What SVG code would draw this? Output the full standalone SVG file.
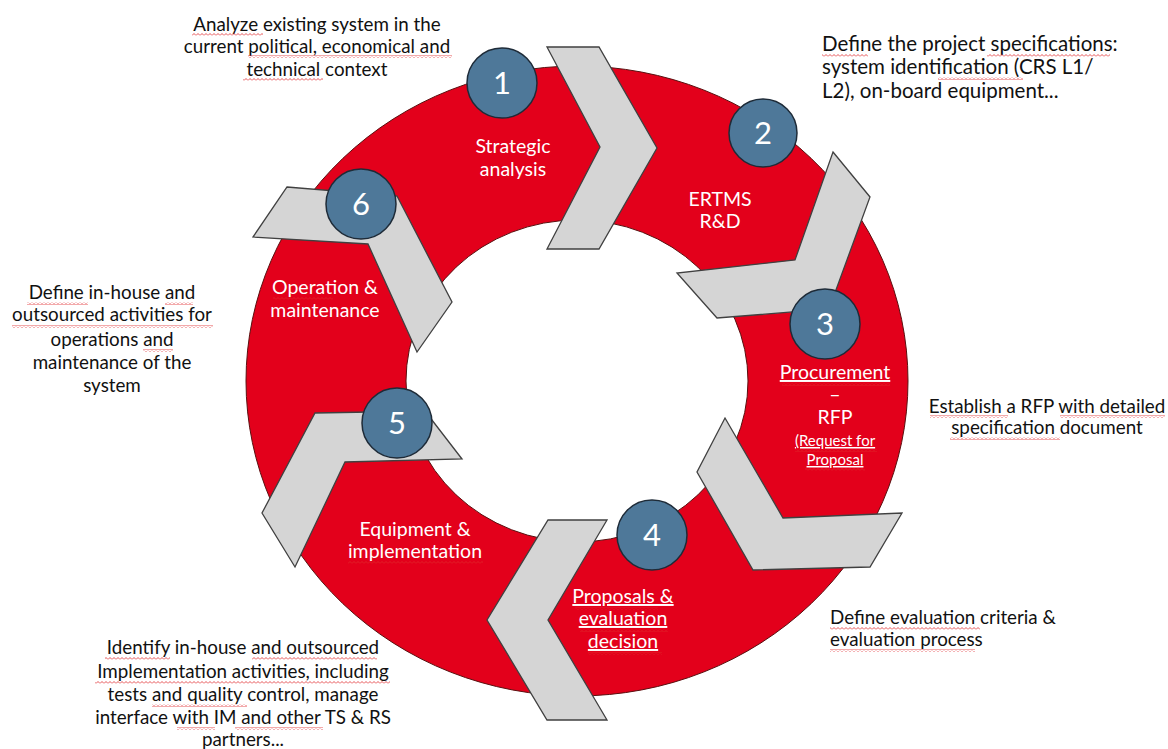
<svg xmlns="http://www.w3.org/2000/svg" width="1168" height="749" viewBox="0 0 1168 749">
<defs>
<pattern id="sq" patternUnits="userSpaceOnUse" width="4" height="3">
<path d="M0,2.5 L2,0.5 L4,2.5" fill="none" stroke="#E0282B" stroke-width="0.8"/>
</pattern>
</defs>
<style>
.ring{fill:#E3001B;stroke:#5A1010;stroke-width:1}
.chev{fill:#D5D5D5;stroke:#404040;stroke-width:1.3;stroke-linejoin:miter}
.num{fill:#4E7899;stroke:#1E2B38;stroke-width:1.5}
.nt{font-family:Lato,"Liberation Sans",sans-serif;font-size:31px;fill:#FFFFFF;text-anchor:middle}
.wt{font-family:Lato,"Liberation Sans",sans-serif;font-size:19.5px;fill:#FFFFFF;text-anchor:middle}
.bt{font-family:Lato,"Liberation Sans",sans-serif;font-size:18.8px;fill:#111111}
.c{text-anchor:middle}
.u{text-decoration:underline}
.sq{fill:url(#sq)}
</style>
<rect width="1168" height="749" fill="#FFFFFF"/>
<g id="ring">
<path class="ring" fill-rule="evenodd" d="M246,381 A331,315 0 1,0 908,381 A331,315 0 1,0 246,381 Z M406,381 A171,161 0 1,0 748,381 A171,161 0 1,0 406,381 Z"/>
</g>
<g id="connectors">
<polygon class="chev" points="547,47 599,47 657,148 599,249 547,249 600,147"/>
<polygon class="chev" points="833,152 870,197 829,309 717,318 677,273 795,260"/>
<polygon class="chev" points="725,418 783,518 902,513 870,567 753,570 697,472"/>
<polygon class="chev" points="548,520 607,520 548,620 607,720 547,720 487,620"/>
<polygon class="chev" points="315,413 425,411 462,459 345,462 295,567 262,513"/>
<polygon class="chev" points="287,187 397,196 452,302 417,352 368,244 253,237"/>
</g>
<g id="node1">
<circle class="num" cx="502" cy="83" r="35"/>
<text class="nt" x="502" y="94">1</text>
<text class="wt" x="513" y="153">Strategic</text>
<text class="wt" x="513" y="176">analysis</text>
</g>
<g id="node2">
<circle class="num" cx="763" cy="133" r="34"/>
<text class="nt" x="763" y="144">2</text>
<text class="wt" x="720" y="206">ERTMS</text>
<text class="wt" x="720" y="228">R&amp;D</text>
</g>
<g id="node3">
<circle class="num" cx="825" cy="324" r="35"/>
<text class="nt" x="825" y="335">3</text>
<text class="wt u" x="835" y="379">Procurement</text>
<text class="wt" x="835" y="401">–</text>
<text class="wt" x="835" y="424">RFP</text>
<text class="wt u" x="835" y="446" style="font-size:15px">(Request for</text>
<text class="wt u" x="835" y="465" style="font-size:15px">Proposal</text>
</g>
<g id="node4">
<circle class="num" cx="652" cy="535" r="35"/>
<text class="nt" x="652" y="546">4</text>
<text class="wt u" x="623" y="603">Proposals &amp;</text>
<text class="wt u" x="623" y="625">evaluation</text>
<text class="wt u" x="623" y="648">decision</text>
</g>
<g id="node5">
<circle class="num" cx="397" cy="423" r="35"/>
<text class="nt" x="397" y="434">5</text>
<text class="wt" x="415" y="536">Equipment &amp;</text>
<text class="wt" x="415" y="558">implementation</text>
</g>
<g id="node6">
<circle class="num" cx="361" cy="204" r="35"/>
<text class="nt" x="361" y="215">6</text>
<text class="wt" x="325" y="294">Operation &amp;</text>
<text class="wt" x="325" y="317">maintenance</text>
</g>
<g id="notes">
<text class="bt c" x="317" y="31">Analyze existing system in the</text>
<text class="bt c" x="317" y="53">current political, economical and</text>
<text class="bt c" x="317" y="76">technical context</text>
<text class="bt" x="822" y="51" style="font-size:20.5px">Define the project specifications:</text>
<text class="bt" x="822" y="74" style="font-size:20.5px">system identification (CRS L1/</text>
<text class="bt" x="822" y="98" style="font-size:20.5px">L2), on-board equipment...</text>
<text class="bt c" x="1047" y="413">Establish a RFP with detailed</text>
<text class="bt c" x="1047" y="434">specification document</text>
<text class="bt c" x="112" y="299">Define in-house and</text>
<text class="bt c" x="112" y="321">outsourced activities for</text>
<text class="bt c" x="112" y="346">operations and</text>
<text class="bt c" x="112" y="369">maintenance of the</text>
<text class="bt c" x="112" y="392">system</text>
<text class="bt" x="830" y="624">Define evaluation criteria &amp;</text>
<text class="bt" x="830" y="646">evaluation process</text>
<text class="bt c" x="243" y="654">Identify in-house and outsourced</text>
<text class="bt c" x="243" y="678">Implementation activities, including</text>
<text class="bt c" x="243" y="701">tests and quality control, manage</text>
<text class="bt c" x="243" y="724">interface with IM and other TS &amp; RS</text>
<text class="bt c" x="243" y="746">partners...</text>
</g>
<g id="squiggles">
<rect class="sq" x="192" y="33" width="71" height="3"/>
<rect class="sq" x="248" y="55" width="204" height="3"/>
<rect class="sq" x="243" y="78" width="80" height="3"/>
<rect class="sq" x="822" y="54" width="46" height="3"/>
<rect class="sq" x="987" y="54" width="123" height="3"/>
<rect class="sq" x="938" y="77" width="85" height="3"/>
<rect class="sq" x="930" y="415" width="78" height="3"/>
<rect class="sq" x="1060" y="415" width="105" height="3"/>
<rect class="sq" x="950" y="437" width="110" height="3"/>
<rect class="sq" x="782" y="383" width="108" height="3"/>
<rect class="sq" x="795" y="449" width="82" height="3"/>
<rect class="sq" x="805" y="468" width="60" height="3"/>
<rect class="sq" x="27" y="302" width="61" height="3"/>
<rect class="sq" x="165" y="302" width="28" height="3"/>
<rect class="sq" x="12" y="325" width="201" height="3"/>
<rect class="sq" x="143" y="349" width="30" height="3"/>
<rect class="sq" x="273" y="297" width="60" height="3"/>
<rect class="sq" x="348" y="561" width="135" height="3"/>
<rect class="sq" x="105" y="657" width="65" height="3"/>
<rect class="sq" x="252" y="657" width="125" height="3"/>
<rect class="sq" x="95" y="681" width="295" height="3"/>
<rect class="sq" x="152" y="704" width="95" height="3"/>
<rect class="sq" x="177" y="727" width="38" height="3"/>
<rect class="sq" x="235" y="727" width="88" height="3"/>
<rect class="sq" x="575" y="607" width="83" height="3"/>
<rect class="sq" x="580" y="629" width="88" height="3"/>
<rect class="sq" x="588" y="652" width="74" height="3"/>
<rect class="sq" x="830" y="627" width="150" height="3"/>
<rect class="sq" x="830" y="649" width="145" height="3"/>
</g>
</svg>
